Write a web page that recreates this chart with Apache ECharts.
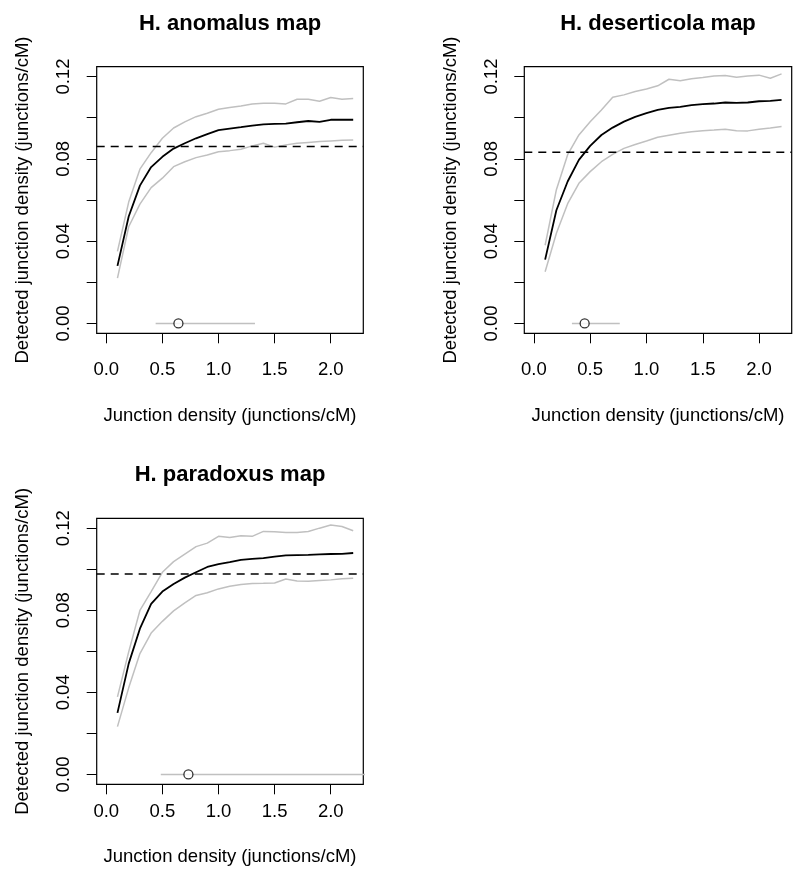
<!DOCTYPE html>
<html>
<head>
<meta charset="utf-8">
<script src="https://cdn.jsdelivr.net/npm/echarts@6/dist/echarts.min.js"></script>
<style>
html,body{margin:0;padding:0;background:#fff;}
#chart{width:800px;height:882px;}
</style>
</head>
<body>
<div id="chart"></div>
<script>
// ---- data ----
const xs = [0.1,0.2,0.3,0.4,0.5,0.6,0.7,0.8,0.9,1.0,1.1,1.2,1.3,1.4,1.5,1.6,1.7,1.8,1.9,2.0,2.1,2.2];

const anoMean  = [0.028,0.052,0.067,0.076,0.081,0.085,0.0876,0.090,0.092,0.094,0.0947,0.0954,0.0962,0.0968,0.097,0.0971,0.0978,0.0984,0.098,0.099,0.099,0.099];
const anoUpper = [0.035,0.059,0.075,0.083,0.090,0.095,0.098,0.1005,0.1022,0.1041,0.105,0.1057,0.1067,0.107,0.107,0.1067,0.109,0.109,0.108,0.1098,0.109,0.1093];
const anoLower = [0.022,0.047,0.058,0.066,0.0706,0.0762,0.0786,0.0806,0.0819,0.0835,0.084,0.0847,0.0863,0.0876,0.0857,0.0868,0.0876,0.088,0.0884,0.0887,0.089,0.0892];

const desMean  = [0.031,0.055,0.069,0.0795,0.0863,0.0916,0.0952,0.0981,0.1004,0.1022,0.1038,0.1048,0.1053,0.1061,0.1066,0.1069,0.1074,0.1072,0.1074,0.108,0.1082,0.1087];
const desUpper = [0.038,0.065,0.082,0.0916,0.098,0.1038,0.110,0.1111,0.1127,0.114,0.1155,0.1187,0.118,0.1189,0.1195,0.1203,0.1205,0.1197,0.1203,0.1207,0.1192,0.1213];
const desLower = [0.0251,0.0438,0.0582,0.0681,0.0738,0.0786,0.0822,0.0851,0.087,0.0887,0.0905,0.0915,0.0924,0.0932,0.0937,0.094,0.0944,0.0937,0.0936,0.0944,0.095,0.0957];

const parMean  = [0.030,0.054,0.071,0.0831,0.0891,0.0928,0.0959,0.0985,0.1011,0.1025,0.1034,0.1045,0.105,0.1054,0.1061,0.1067,0.1069,0.107,0.1072,0.1074,0.1075,0.1079];
const parUpper = [0.0378,0.0597,0.0799,0.0891,0.0985,0.1037,0.1074,0.111,0.1127,0.116,0.1155,0.1163,0.116,0.1184,0.1182,0.1179,0.1179,0.1184,0.120,0.1215,0.1208,0.1187];
const parLower = [0.0233,0.0422,0.0589,0.0689,0.0746,0.0797,0.0836,0.0872,0.0885,0.0904,0.0917,0.0925,0.093,0.0931,0.0933,0.0952,0.0943,0.0941,0.0945,0.0948,0.0953,0.0956];

const thresholds = [0.086, 0.0832, 0.0977];
const estimates  = [0.643, 0.451, 0.732];
const ciLow      = [0.44, 0.338, 0.486];
const ciHigh     = [1.325, 0.763, 2.6];

const titles = ['H. anomalus map', 'H. deserticola map', 'H. paradoxus map'];
const xTickValues = [0, 0.5, 1.0, 1.5, 2.0];
const yTickValues = [0, 0.02, 0.04, 0.06, 0.08, 0.10, 0.12];
const yLabelValues = [0, 0.04, 0.08, 0.12];
const xName = 'Junction density (junctions/cM)';
const yName = 'Detected junction density (junctions/cM)';

// ---- layout ----
const FONT = '"Liberation Sans", Arial, Helvetica, sans-serif';
const FS = 18.5;
const panels = [
  {left: 96.7, top: 66.7, width: 266.6, height: 266.6, labelMargin: 27, nameGap: 73, mean: anoMean, upper: anoUpper, lower: anoLower},
  {left: 524.3, top: 66.7, width: 267.4, height: 266.6, labelMargin: 27, nameGap: 73, mean: desMean, upper: desUpper, lower: desLower},
  {left: 96.7, top: 518.3, width: 266.6, height: 266.0, labelMargin: 18, nameGap: 63, mean: parMean, upper: parUpper, lower: parLower}
];
const xMin = -0.085, xMax = 2.29, yMin = -0.0048, yMax = 0.1248;

const grid = [], xAxis = [], yAxis = [], series = [], title = [];
const pairs = (ys) => xs.map((x, i) => [x, ys[i]]);

panels.forEach((p, i) => {
  grid.push({left: p.left, top: p.top, width: p.width, height: p.height, show: true,
    borderColor: '#000', borderWidth: 1.2, backgroundColor: 'transparent', containLabel: false});
  title.push({text: titles[i], left: p.left + p.width / 2, top: p.top - 54, textAlign: 'center', padding: 0,
    textStyle: {fontFamily: FONT, fontWeight: 'bold', fontSize: 22, color: '#000'}});
  xAxis.push({gridIndex: i, type: 'value', min: xMin, max: xMax,
    axisLine: {show: false, onZero: false},
    axisTick: {show: true, length: 10, customValues: xTickValues, lineStyle: {color: '#000', width: 1}},
    axisLabel: {customValues: xTickValues, formatter: v => v.toFixed(1), margin: p.labelMargin,
      fontFamily: FONT, fontSize: FS, color: '#000'},
    splitLine: {show: false},
    name: xName, nameLocation: 'middle', nameGap: p.nameGap,
    nameTextStyle: {fontFamily: FONT, fontSize: FS, color: '#000'}});
  yAxis.push({gridIndex: i, type: 'value', min: yMin, max: yMax,
    axisLine: {show: false, onZero: false},
    axisTick: {show: true, length: 10, customValues: yTickValues, lineStyle: {color: '#000', width: 1}},
    axisLabel: {customValues: yLabelValues, formatter: v => v.toFixed(2), rotate: 90, margin: 23,
      fontFamily: FONT, fontSize: FS, color: '#000'},
    splitLine: {show: false},
    name: yName, nameLocation: 'middle', nameGap: 64, nameRotate: 90,
    nameTextStyle: {fontFamily: FONT, fontSize: FS, color: '#000'}});

  const common = {type: 'line', xAxisIndex: i, yAxisIndex: i, symbol: 'none', silent: true, animation: false, clip: true};
  series.push(Object.assign({}, common, {data: pairs(p.upper), lineStyle: {color: '#c0c0c0', width: 1.5}, z: 2}));
  series.push(Object.assign({}, common, {data: pairs(p.lower), lineStyle: {color: '#c0c0c0', width: 1.5}, z: 2}));
  series.push(Object.assign({}, common, {data: pairs(p.mean), lineStyle: {color: '#000', width: 1.8}, z: 3}));
  series.push(Object.assign({}, common, {data: [[xMin, thresholds[i]], [xMax, thresholds[i]]],
    lineStyle: {color: '#000', width: 1.5, type: [8, 6]}, z: 3}));
  series.push(Object.assign({}, common, {data: [[ciLow[i], 0], [ciHigh[i], 0]], lineStyle: {color: '#c0c0c0', width: 1.5}, z: 4}));
  series.push({type: 'scatter', xAxisIndex: i, yAxisIndex: i, silent: true, animation: false,
    data: [[estimates[i], 0]], symbol: 'circle', symbolSize: 9,
    itemStyle: {color: '#fff', borderColor: '#000', borderWidth: 1.3}, z: 5});
});

const chart = echarts.init(document.getElementById('chart'), null, {renderer: 'canvas'});
chart.setOption({backgroundColor: '#fff', animation: false, title, grid, xAxis, yAxis, series});
</script>
</body>
</html>
